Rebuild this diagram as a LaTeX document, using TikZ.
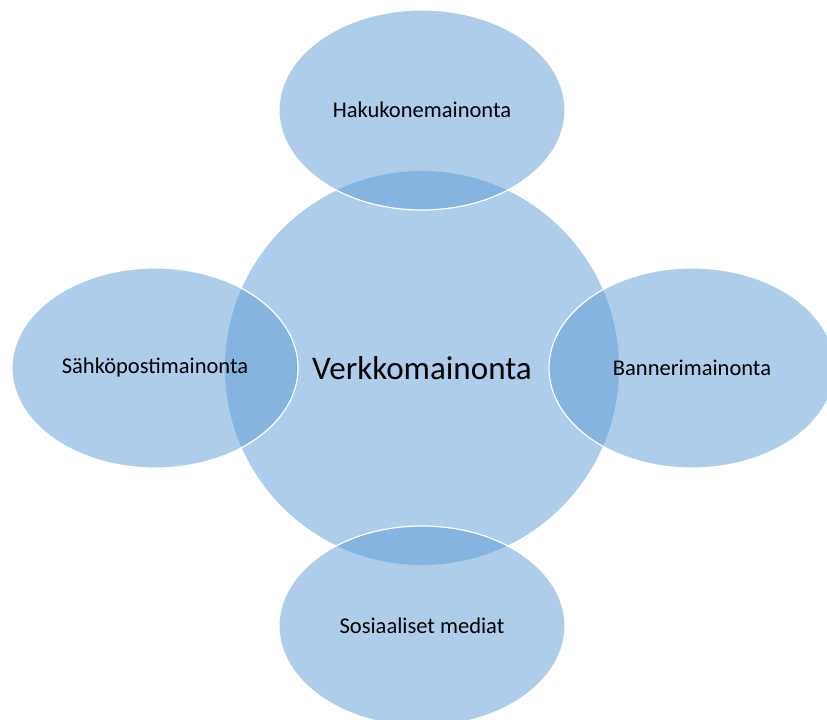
\documentclass[tikz,border=0pt]{standalone}
\usepackage{fontspec}
\setmainfont{Carlito}
\usepackage{tikz}
\usetikzlibrary{shapes.geometric}

\definecolor{officeblue}{RGB}{91,155,213}

\tikzset{
    bubble/.style={ellipse, fill=officeblue, fill opacity=0.5, text opacity=1,
        draw=white, line width=0.85pt, inner sep=0pt,
        minimum width=7.15cm, minimum height=5cm,
        font=\fontsize{16}{19}\selectfont},
    hub/.style={circle, fill=officeblue, fill opacity=0.5, text opacity=1,
        inner sep=0pt, minimum size=9.85cm,
        font=\fontsize{23.5}{28}\selectfont}
}

\begin{document}
\begin{tikzpicture}[x=0.025cm, y=-0.025cm]
            \useasboundingbox (0,0) rectangle (827,720);
            \clip (0,0) rectangle (827,720);

            \node[hub] (verkko) at (422,368) {Verkkomainonta};

            \node[bubble] (haku) at (422,110) {Hakukonemainonta};
            \node[bubble] (sahko) at (155,368) {Sähköpostimainonta};
            \node[bubble] (banneri) at (692,368) {Bannerimainonta};
            \node[bubble] (some) at (422,626) {Sosiaaliset mediat};
        \end{tikzpicture}
\end{document}
